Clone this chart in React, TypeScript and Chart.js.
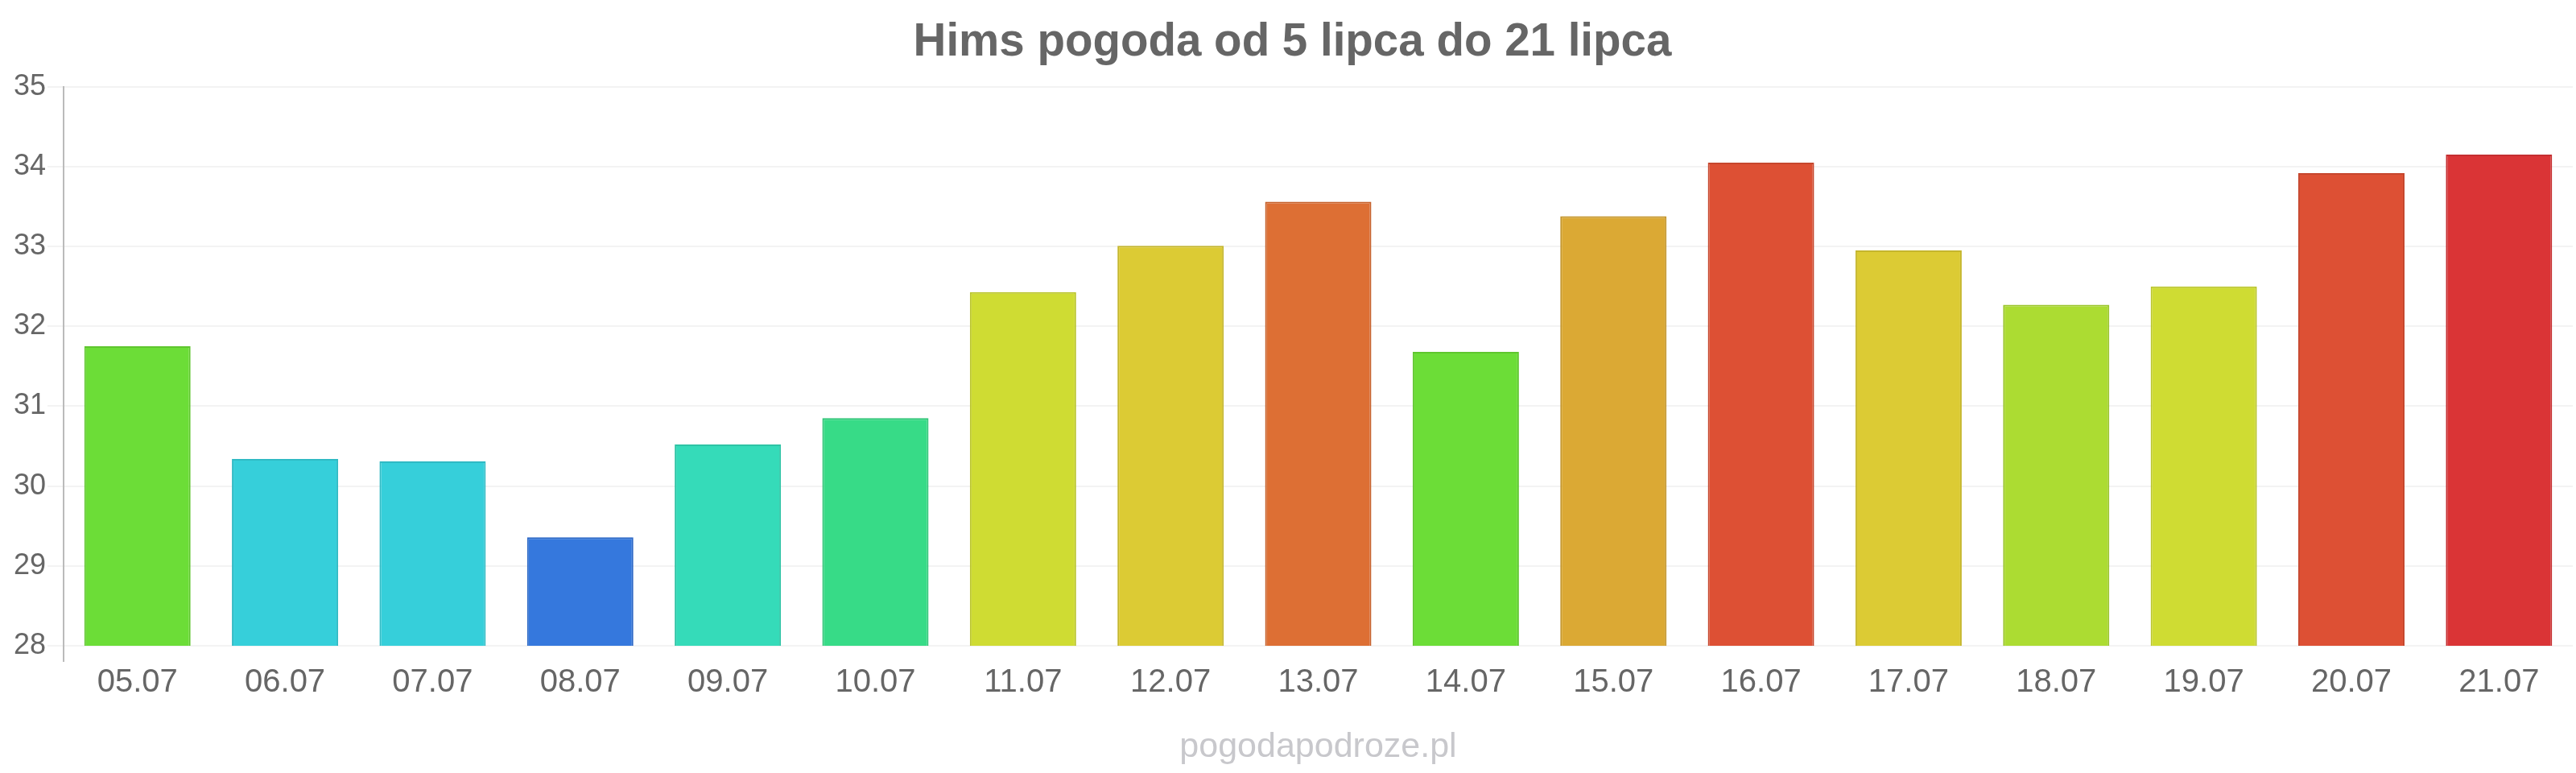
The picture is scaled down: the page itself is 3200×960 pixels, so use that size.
import { useEffect, useRef } from 'react';
import { Chart, registerables } from 'chart.js';

Chart.register(...registerables);

const categories = ['05.07', '06.07', '07.07', '08.07', '09.07', '10.07', '11.07', '12.07', '13.07', '14.07', '15.07', '16.07', '17.07', '18.07', '19.07', '20.07', '21.07'];
const temperatures = [31.75, 30.34, 30.31, 29.36, 30.52, 30.85, 32.43, 33.01, 33.56, 31.68, 33.38, 34.05, 32.95, 32.27, 32.5, 33.92, 34.15];
const fillColors = ['#6cdd37', '#36cfda', '#36cfda', '#3578dd', '#35dbb9', '#37db87', '#cfdc33', '#dccb34', '#dd6f34', '#6cdd37', '#dba934', '#dd5034', '#dccb34', '#acdc32', '#cfdc33', '#dd5034', '#da3436'];
const borderColors = ['#5fc62e', '#2fbac4', '#2fbac4', '#2e69c6', '#2ec4a5', '#30c477', '#bac52b', '#c5b62d', '#c6622d', '#5fc62e', '#c4962d', '#c6462d', '#c5b62d', '#9ac52b', '#bac52b', '#c6462d', '#c42e30'];
const yMin = 28;
const yMax = 35;
const titleText = 'Hims pogoda od 5 lipca do 21 lipca';
const footerText = 'pogodapodroze.pl';

const FONT = "'Liberation Sans', Arial, sans-serif";

const footerPlugin = {
  id: 'footerText',
  afterDraw(chart: any) {
    const { ctx, chartArea } = chart;
    ctx.save();
    ctx.font = `normal 43px ${FONT}`;
    ctx.fillStyle = '#c8c8cc';
    ctx.textAlign = 'center';
    ctx.textBaseline = 'alphabetic';
    ctx.fillText(footerText, (chartArea.left + chartArea.right) / 2, 940);
    ctx.restore();
  },
};

export default function App() {
  const ref = useRef<HTMLCanvasElement>(null);
  useEffect(() => {
    document.body.style.margin = '0';
    Chart.defaults.font.family = FONT;
    const chart = new Chart(ref.current as HTMLCanvasElement, {
      type: 'bar',
      data: {
        labels: categories,
        datasets: [
          {
            data: temperatures,
            backgroundColor: fillColors,
            borderColor: borderColors,
            borderWidth: 2,
          },
        ],
      },
      plugins: [footerPlugin],
      options: {
        responsive: false,
        animation: false,
        devicePixelRatio: 1,
        layout: { padding: { left: 15, right: 4, top: 0, bottom: 86 } },
        plugins: {
          legend: { display: false },
          tooltip: { enabled: false },
          title: {
            display: true,
            text: titleText,
            color: '#666666',
            font: { family: FONT, size: 56.5, weight: 'bold' },
            padding: { top: 20, bottom: 20 },
          },
        },
        scales: {
          x: {
            grid: {
              display: true,
              drawOnChartArea: false,
              tickLength: 20,
              lineWidth: 2,
              color: (ctx: any) => (ctx.index === 0 ? '#bbbbbb' : 'rgba(0,0,0,0)'),
            },
            border: { display: false },
            ticks: { color: '#666666', font: { family: FONT, size: 40 }, padding: 2 },
          },
          y: {
            min: yMin,
            max: yMax,
            ticks: { stepSize: 1, color: '#666666', font: { family: FONT, size: 36 }, padding: 2 },
            grid: { color: '#f3f3f3', tickLength: 20, lineWidth: 2 },
            border: { display: true, color: '#bbbbbb', width: 2 },
          },
        },
      },
    });
    return () => chart.destroy();
  }, []);
  return <canvas ref={ref} width={3200} height={960} style={{ display: 'block' }} />;
}
